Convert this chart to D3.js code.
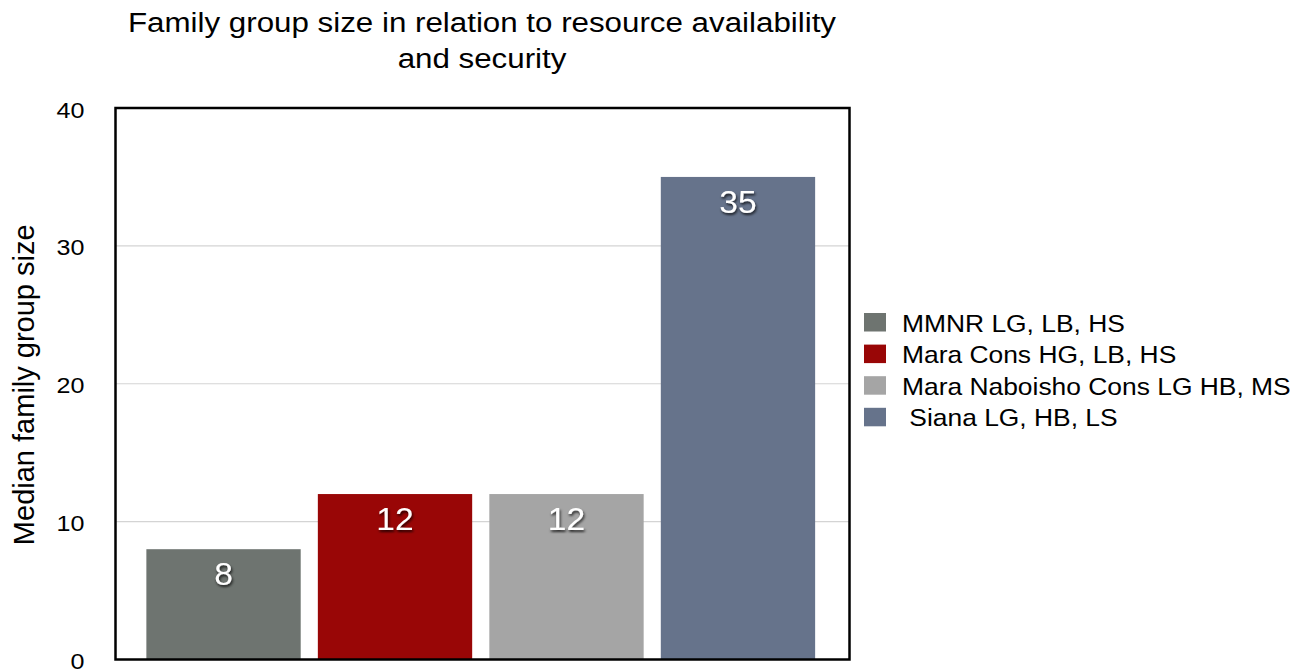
<!DOCTYPE html>
<html>
<head>
<meta charset="utf-8">
<script src="https://cdnjs.cloudflare.com/ajax/libs/d3/7.8.5/d3.min.js"></script>
<style>
  html, body { margin: 0; padding: 0; background: #ffffff; }
  svg { display: block; font-family: "Liberation Sans", Arial, Helvetica, sans-serif; }
</style>
</head>
<body>
<svg id="chart" width="1307" height="672"></svg>
<script>
// Sites and their median family group sizes
const sites = [
  "MMNR LG, LB, HS",
  "Mara Cons HG, LB, HS",
  "Mara Naboisho Cons LG HB, MS",
  " Siana LG, HB, LS"
];
const medianGroupSize = [8, 12, 12, 35];
const siteColors = ["#6e7470", "#990606", "#a5a5a5", "#66738b"];
const yTicks = [0, 10, 20, 30, 40];
const titleLines = ["Family group size in relation to resource availability", "and security"];
const yAxisTitle = "Median family group size";

const FONT = '"Liberation Sans", Arial, Helvetica, sans-serif';
const svg = d3.select("#chart");

// plot frame
const frame = { left: 115.5, right: 849.5, top: 108, bottom: 659.5 };

const x = d3.scaleBand()
  .domain(sites)
  .range([frame.left, 846])
  .paddingInner(0.1)
  .paddingOuter(0.18);

const y = d3.scaleLinear()
  .domain([0, 40])
  .range([frame.bottom, frame.top]);

// label shadow
const defs = svg.append("defs");
const f = defs.append("filter").attr("id", "lblShadow")
  .attr("x", "-30%").attr("y", "-30%").attr("width", "160%").attr("height", "160%");
f.append("feDropShadow")
  .attr("dx", 1).attr("dy", 2).attr("stdDeviation", 1.3)
  .attr("flood-color", "#000").attr("flood-opacity", 0.75);

// horizontally widened text helper
function stretch(sel, sx) {
  sel.each(function () {
    const t = d3.select(this);
    const tx = +t.attr("data-x"), ty = +t.attr("data-y");
    t.attr("transform", `translate(${tx},${ty}) scale(${sx},1)`);
  });
}

// gridlines
svg.append("g")
  .selectAll("line")
  .data(yTicks.filter(d => d > 0 && d < 40))
  .join("line")
  .attr("x1", frame.left).attr("x2", frame.right)
  .attr("y1", d => y(d)).attr("y2", d => y(d))
  .attr("stroke", "#d4d4d4").attr("stroke-width", 1.2);

// bars
svg.append("g")
  .selectAll("rect")
  .data(sites)
  .join("rect")
  .attr("x", d => x(d))
  .attr("width", x.bandwidth())
  .attr("y", (d, i) => y(medianGroupSize[i]))
  .attr("height", (d, i) => y(0) - y(medianGroupSize[i]))
  .attr("fill", (d, i) => siteColors[i]);

// value labels
svg.append("g")
  .selectAll("text")
  .data(sites)
  .join("text")
  .attr("data-x", d => x(d) + x.bandwidth() / 2)
  .attr("data-y", (d, i) => y(medianGroupSize[i]) + 36)
  .attr("text-anchor", "middle")
  .attr("font-size", 32)
  .attr("fill", "#ffffff")
  .attr("filter", "url(#lblShadow)")
  .text((d, i) => medianGroupSize[i])
  .call(stretch, 1.05);

// frame
svg.append("rect")
  .attr("x", frame.left).attr("y", frame.top)
  .attr("width", frame.right - frame.left)
  .attr("height", frame.bottom - frame.top)
  .attr("fill", "none")
  .attr("stroke", "#000").attr("stroke-width", 2.5);

// y axis tick labels
const yAxis = d3.axisLeft(y).tickValues(yTicks).tickSize(0).tickPadding(0);
const yg = svg.append("g")
  .attr("transform", `translate(${frame.left},0)`)
  .call(yAxis)
  .attr("font-family", FONT)
  .attr("font-size", 22);
yg.select(".domain").remove();
yg.selectAll(".tick text")
  .attr("fill", "#000")
  .attr("dy", null)
  .attr("x", 0)
  .attr("y", 0)
  .attr("data-x", -31)
  .attr("data-y", 9)
  .attr("text-anchor", "end")
  .call(stretch, 1.14);

// y axis title
svg.append("text")
  .attr("transform", `translate(34,${(frame.top + frame.bottom) / 2 + 1}) rotate(-90)`)
  .attr("text-anchor", "middle")
  .attr("font-size", 29)
  .attr("fill", "#000")
  .text(yAxisTitle);

// title
svg.append("g")
  .selectAll("text")
  .data(titleLines)
  .join("text")
  .attr("data-x", 482)
  .attr("data-y", (d, i) => 32 + i * 36)
  .attr("text-anchor", "middle")
  .attr("font-size", 27)
  .attr("fill", "#000")
  .text(d => d)
  .call(stretch, 1.16);

// legend
const legend = svg.append("g");
const rows = legend.selectAll("g")
  .data(sites)
  .join("g")
  .attr("transform", (d, i) => `translate(864,${313 + i * 31.6})`);
rows.append("rect")
  .attr("width", 22).attr("height", 18.5)
  .attr("fill", (d, i) => siteColors[i]);
rows.append("text")
  .attr("data-x", 38)
  .attr("data-y", 18.5)
  .attr("font-size", 24)
  .attr("fill", "#000")
  .style("white-space", "pre")
  .text(d => d)
  .call(stretch, 1.1);
</script>
</body>
</html>
